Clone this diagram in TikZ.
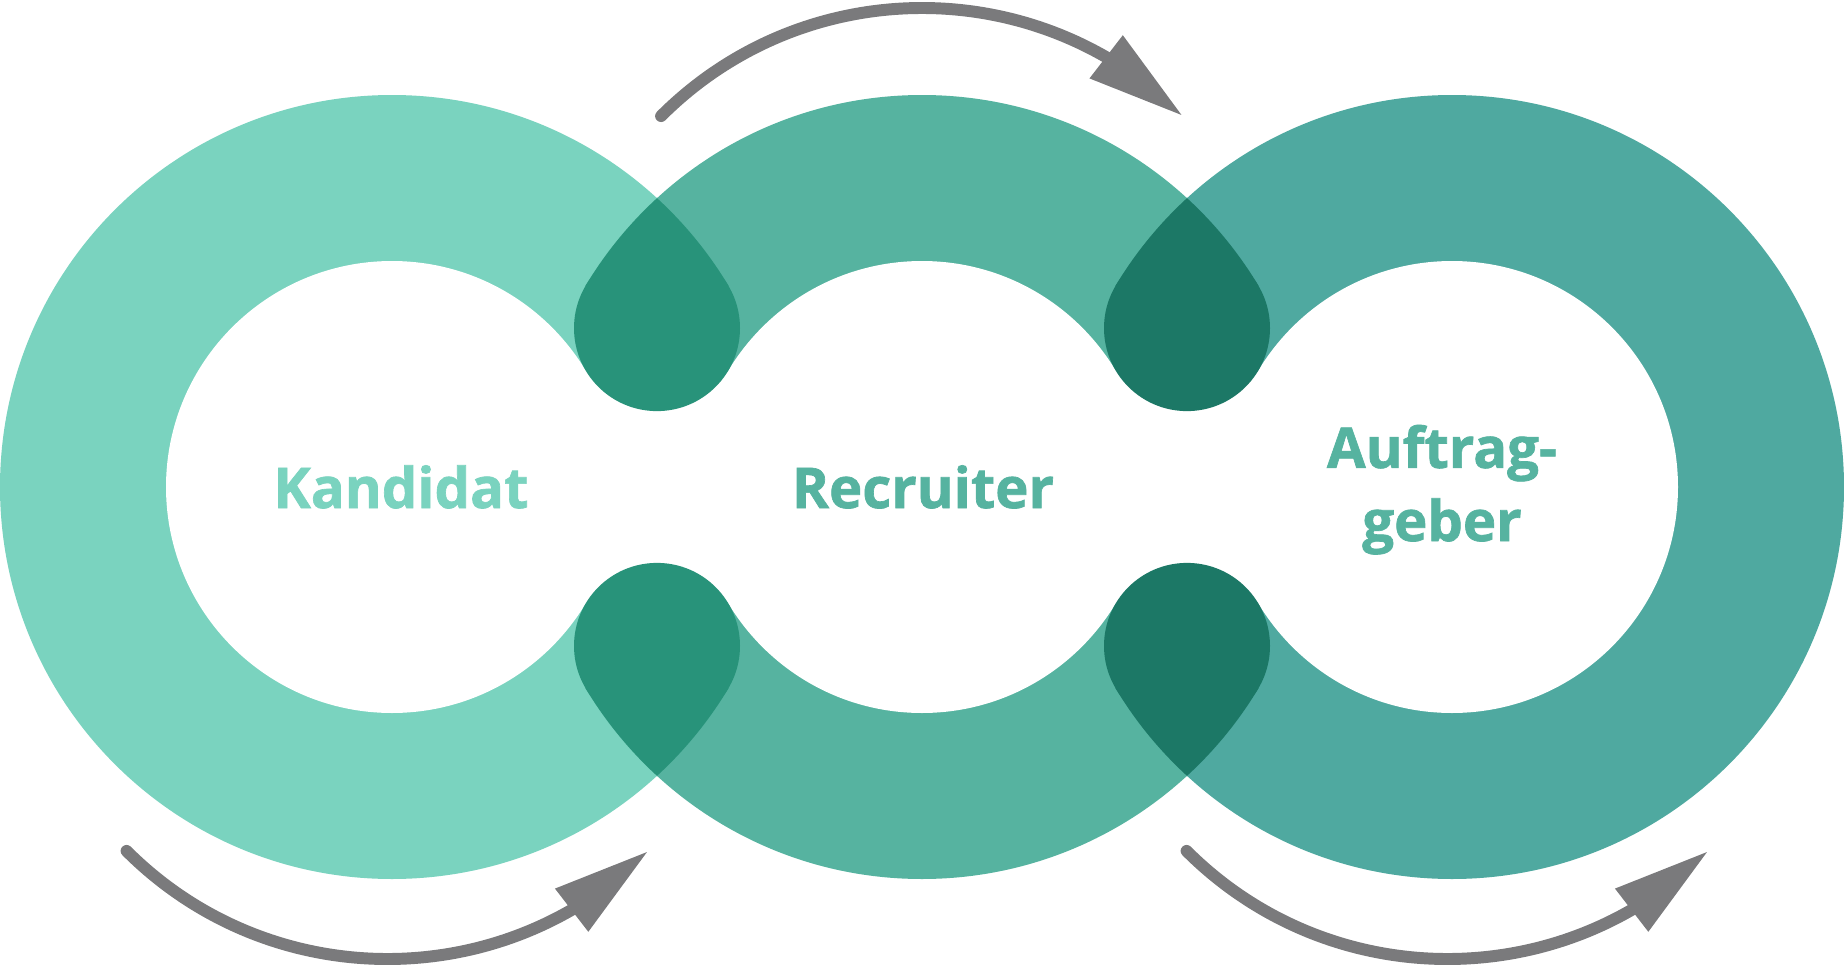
\documentclass[tikz,border=0pt]{standalone}
\usepackage{fontspec}
\setmainfont{Open Sans}[BoldFeatures={FakeBold=1.2}]
\usetikzlibrary{arrows.meta,bending,calc}
\definecolor{kandcol}{HTML}{7AD3BF}
\definecolor{recrcol}{HTML}{56B3A0}
\definecolor{auftcol}{HTML}{4FA9A0}
\definecolor{kandrecr}{HTML}{28937A}
\definecolor{recrauft}{HTML}{1C7866}
\definecolor{arrowgray}{HTML}{7A7A7C}

\begin{document}
\begin{tikzpicture}[
    ringtext/.style={font=\bfseries\fontsize{16}{20.8}\selectfont, text=#1, anchor=base, align=center, inner sep=0pt},
    cyclearrow/.style={draw=arrowgray, line width=3.4pt, line cap=round, -{Triangle[length=0.97cm, width=0.51cm]}}
  ]
  \useasboundingbox (0,0) rectangle (18.44,9.66);
  \coordinate (kand) at (3.92,4.79);
  \coordinate (recr) at (9.22,4.79);
  \coordinate (auft) at (14.52,4.79);
  \foreach \c/\col/\xa/\xb in {kand/kandcol/0/6.57, recr/recrcol/6.57/11.87, auft/auftcol/11.87/18.44} {
    \begin{scope}
      \clip (\xa,0) rectangle (\xb,9.66);
      \fill[\col] (\c) circle[radius=3.92];
    \end{scope}
  }
  \foreach \c in {kand, recr, auft}
    \fill[white] (\c) circle[radius=2.26];
  \foreach \a/\b in {kand/recr, recr/auft}
    \fill[white] (\a) -- ($(\a)!0.5!(\b)+(0,1.589)$) -- (\b) -- ($(\a)!0.5!(\b)+(0,-1.589)$) -- cycle;
  \foreach \a/\b/\col in {kand/recr/kandrecr, recr/auft/recrauft}
    \foreach \s in {1,-1} {
      \begin{scope}
        \clip (\a) circle[radius=3.92];
        \clip ($(\a)!0.5!(\b)+(-1,\s*2.016)$) rectangle ++(2,\s*3);
        \fill[\col] (\b) circle[radius=3.92];
      \end{scope}
      \fill[\col] ($(\a)!0.5!(\b)+(0,\s*1.589)$) circle[radius=0.83];
    }
  \node[ringtext=kandcol] (kandidat) at (4.01,4.58) {Kandidat};
  \node[ringtext=recrcol] (recruiter) at (9.23,4.58) {Recruiter};
  \node[ringtext=recrcol] (auftraggeber) at (14.42,4.25) {Auftrag-\\geber};
  \draw[cyclearrow] ([yshift=11mm, shift={(135:3.69)}]recr) arc[start angle=135, end angle=45, radius=3.69];
  \foreach \c in {kand, auft}
    \draw[cyclearrow] ([xshift=-0.45mm, yshift=-10.3mm, shift={(225:3.69)}]\c) arc[start angle=225, end angle=315, radius=3.69];
\end{tikzpicture}
\end{document}
